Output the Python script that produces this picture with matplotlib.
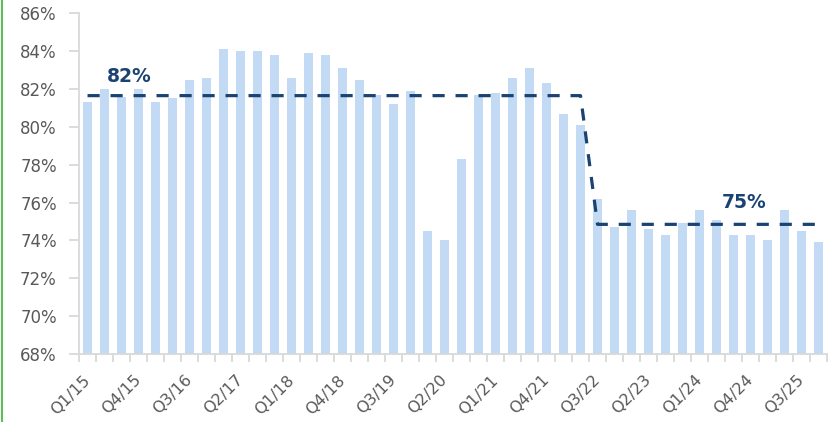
import matplotlib
matplotlib.use("Agg")
import matplotlib.pyplot as plt
from matplotlib.ticker import FixedLocator, FuncFormatter
from matplotlib.lines import Line2D

quarters = [f"Q{q}/{y}" for y in range(15, 26) for q in range(1, 5)]
values = [81.3, 82.0, 81.6, 82.0, 81.3, 81.5, 82.5, 82.6, 84.1, 84.0,
          84.0, 83.8, 82.6, 83.9, 83.8, 83.1, 82.5, 81.7, 81.2, 81.9,
          74.5, 74.0, 78.3, 81.7, 81.8, 82.6, 83.1, 82.3, 80.7, 80.1,
          76.2, 74.7, 75.6, 74.6, 74.3, 74.9, 75.6, 75.1, 74.3, 74.3,
          74.0, 75.6, 74.5, 73.9]
avg_before = 81.65
avg_after = 74.85
n_before = 30
avg_line = [avg_before] * n_before + [avg_after] * (len(values) - n_before)
label_before = "82%"
label_after = "75%"

bar_color = "#C2DAF3"
navy = "#1A4273"
gray_text = "#595959"
axis_gray = "#D9D9D9"

fig = plt.figure(figsize=(8.39, 4.22), dpi=100)
ax = fig.add_axes([0.0942, 0.1611, 0.8915, 0.8074])

x = list(range(len(values)))
ax.bar(x, values, width=0.57, color=bar_color, bottom=0, zorder=1)
ax.plot(x, avg_line, color=navy, lw=2.3, dashes=(3.8, 3.4), zorder=3,
        solid_capstyle="butt", dash_capstyle="butt")

ax.text(2.47, 82.65, label_before, color=navy, fontsize=13.5, fontweight="bold",
        ha="center", va="center", zorder=4)
ax.text(38.6, 76.0, label_after, color=navy, fontsize=13.5, fontweight="bold",
        ha="center", va="center", zorder=4)

ax.set_ylim(68, 86)
ax.set_xlim(-0.5, len(values) - 0.5)
ax.set_yticks([68 + 2 * i for i in range(10)])
ax.yaxis.set_major_formatter(FuncFormatter(lambda v, p: f"{v:.0f}%"))

label_idx = list(range(0, len(values), 3))
ax.xaxis.set_major_locator(FixedLocator(label_idx))
ax.set_xticklabels([quarters[i] for i in label_idx], rotation=45,
                   ha="right", va="center", rotation_mode="anchor")
ax.xaxis.set_minor_locator(FixedLocator([i - 0.5 for i in range(len(values) + 1)]))
ax.tick_params(axis="x", which="major", length=0, pad=17, labelsize=11.5,
               labelcolor=gray_text)
ax.tick_params(axis="x", which="minor", length=6, width=1.3, color=axis_gray)
ax.tick_params(axis="y", which="major", length=7, width=1.3, color=axis_gray,
               labelsize=12, labelcolor=gray_text, pad=9)

for s in ["top", "right"]:
    ax.spines[s].set_visible(False)
for s in ["left", "bottom"]:
    ax.spines[s].set_color(axis_gray)
    ax.spines[s].set_linewidth(1.3)

fig.add_artist(Line2D([0.0024, 0.0024], [0, 1], transform=fig.transFigure,
                      color="#5CBF5C", lw=1.5))

fig.savefig("out.png", dpi=100)
